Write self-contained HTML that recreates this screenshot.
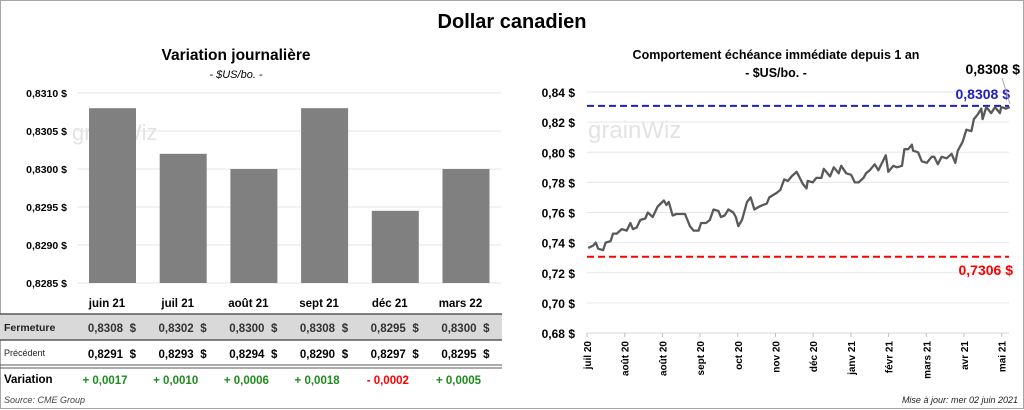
<!DOCTYPE html>
<html><head><meta charset="utf-8">
<style>
body{margin:0;background:#fff;font-family:"Liberation Sans",sans-serif;}
#wrap{position:relative;width:1024px;height:410px;overflow:hidden;}
svg text{font-family:"Liberation Sans",sans-serif;}
</style></head>
<body>
<div id="wrap">
<svg id="svg" width="1024" height="410" xmlns="http://www.w3.org/2000/svg">
<rect x="0.5" y="0.5" width="1023" height="408" fill="#fff" stroke="#a6a6a6"/>
<text x="512" y="28" text-anchor="middle" font-size="20" font-weight="bold">Dollar canadien</text>
<text x="236" y="60" text-anchor="middle" font-size="15.5" font-weight="bold">Variation  journalière</text>
<text x="236" y="78" text-anchor="middle" font-size="11" font-style="italic">- $US/bo. -</text>
<text x="776" y="59" text-anchor="middle" font-size="12.5" font-weight="bold">Comportement échéance immédiate depuis 1 an</text>
<text x="776" y="77" text-anchor="middle" font-size="12.5" font-weight="bold">- $US/bo. -</text>
<text x="72" y="140" font-size="22" fill="#e3e3e3">grainWiz</text>
<text x="588" y="138" font-size="24" fill="#e3e3e3">grainWiz</text>
<g id="left"></g>
<g id="right"></g>
<g id="table"></g>
<text x="4" y="403" font-size="9" font-style="italic" fill="#444">Source: CME Group</text>
<text x="1018" y="403" text-anchor="end" font-size="9" font-style="italic" fill="#222">Mise à jour: mer 02 juin 2021</text>
</svg>
</div>
<script>
const NS="http://www.w3.org/2000/svg";
const barCats=["juin 21","juil 21","août 21","sept 21","déc 21","mars 22"];
const barVals=[0.8308,0.8302,0.8300,0.8308,0.82945,0.8300];
const barTicks=[0.8285,0.8290,0.8295,0.8300,0.8305,0.8310];
const closeVals=["0,8308","0,8302","0,8300","0,8308","0,8295","0,8300"];
const prevVals=["0,8291","0,8293","0,8294","0,8290","0,8297","0,8295"];
const varVals=["+ 0,0017","+ 0,0010","+ 0,0006","+ 0,0018","- 0,0002","+ 0,0005"];
const lineDays=[1,5,7,9,13,15,19,21,24,28,32,35,37,40,43,47,49,53,57,62,64,66,69,72,79,83,86,90,92,96,99,102,106,108,111,114,118,120,122,125,129,132,135,139,145,147,153,156,159,162,165,169,171,174,177,178,182,185,189,191,196,199,203,205,209,213,216,219,223,225,228,232,235,238,241,243,247,250,254,256,259,262,263,267,270,274,278,280,283,286,290,294,297,299,303,306,310,312,315,318,319,322,326,329,333,334,338,341];
const lineVals=[0.7365,0.738,0.740,0.736,0.735,0.740,0.741,0.746,0.746,0.749,0.748,0.753,0.749,0.750,0.755,0.756,0.760,0.757,0.764,0.768,0.765,0.767,0.758,0.759,0.759,0.751,0.748,0.748,0.753,0.753,0.755,0.762,0.761,0.757,0.758,0.762,0.760,0.757,0.751,0.755,0.767,0.770,0.762,0.764,0.766,0.770,0.773,0.775,0.782,0.781,0.784,0.787,0.784,0.779,0.776,0.781,0.780,0.783,0.783,0.789,0.784,0.790,0.786,0.791,0.786,0.785,0.780,0.780,0.783,0.786,0.788,0.792,0.788,0.793,0.798,0.787,0.791,0.790,0.791,0.802,0.802,0.805,0.801,0.800,0.794,0.793,0.797,0.797,0.792,0.797,0.796,0.799,0.793,0.801,0.807,0.815,0.814,0.822,0.825,0.829,0.822,0.830,0.826,0.830,0.826,0.830,0.829,0.830];
const lineTicks=[0.68,0.70,0.72,0.74,0.76,0.78,0.80,0.82,0.84];
const monthLabels=["juil 20","août 20","août 20","sept 20","oct 20","nov 20","déc 20","janv 21","févr 21","mars 21","avr 21","mai 21"];
const highVal=0.8308, lowVal=0.7306, lastVal=0.8308;

function el(tag,attrs,parent,txt){const e=document.createElementNS(NS,tag);for(const k in attrs)e.setAttribute(k,attrs[k]);if(txt!==undefined)e.textContent=txt;parent.appendChild(e);return e;}

const L=document.getElementById('left');
const ly=v=>283-(v-0.8285)/0.0025*190;
const bandX=i=>77+i*70.7;
barTicks.forEach(t=>{
  const g=el('line',{x1:77,x2:501,y1:ly(t),y2:ly(t),stroke:'#e6e6e6'},L);
  
  
  const tx=el('text',{x:67,y:ly(t)+4,'text-anchor':'end','font-size':10.5,'font-weight':'bold'},L,t.toFixed(4).replace('.',',')+' $');
  
  
});
barVals.forEach((v,i)=>{
  const r=el('rect',{x:bandX(i)+12,y:ly(v),width:47,height:283-ly(v),fill:'#808080'},L);
  
  
});

const T=document.getElementById('table');
const r1=el('rect',{x:0,y:314,width:502,height:26,fill:'#d9d9d9'},T);


[[314,'#595959',1.5],[340,'#595959',1.5],[365,'#595959',1],[368,'#595959',1]].forEach(a=>{
  const ln=el('line',{x1:0,x2:502,y1:a[0],y2:a[0],stroke:a[1],'stroke-width':a[2]},T);
  
  
});
[['Fermeture',331,10.5,'bold','#222'],['Précédent',356,9,'normal','#222'],['Variation',383,11.5,'bold','#000']].forEach(a=>{
  const t=el('text',{x:4,y:a[1],'font-size':a[2],'font-weight':a[3],fill:a[4]},T,a[0]);
  
  
});
barCats.forEach((c,i)=>{
  const cx=bandX(i)+30;
  const h=el('text',{x:cx,y:307,'text-anchor':'middle','font-size':11.5,'font-weight':'bold'},T,c);
  
  
  const right=bandX(i)+59;
  const a=el('text',{x:right-13,y:332,'text-anchor':'end','font-size':11.5,'font-weight':'bold',fill:'#333'},T,closeVals[i]);
  
  
  const a2=el('text',{x:right,y:332,'text-anchor':'end','font-size':11.5,'font-weight':'bold',fill:'#333'},T,'$');
  
  
  const b=el('text',{x:right-13,y:358,'text-anchor':'end','font-size':11.5,'font-weight':'bold'},T,prevVals[i]);
  
  
  const b2=el('text',{x:right,y:358,'text-anchor':'end','font-size':11.5,'font-weight':'bold'},T,'$');
  
  
  const v=el('text',{x:cx-2,y:384,'text-anchor':'middle','font-size':11.5,'font-weight':'bold',fill:varVals[i][0]=='-'?'#ff0000':'#1e8c1e'},T,varVals[i]);
  
  
});

const R=document.getElementById('right');
const ry=v=>333-(v-0.68)/0.16*241;
const rx=d=>587+d*1.24;
lineTicks.forEach(t=>{
  const g=el('line',{x1:587,x2:1009,y1:ry(t),y2:ry(t),stroke:'#e6e6e6'},R);
  
  
  const tx=el('text',{x:575,y:ry(t)+5,'text-anchor':'end','font-size':12,'font-weight':'bold'},R,t.toFixed(2).replace('.',',')+' $');
  
  
});
const ax=el('line',{x1:587,x2:1009,y1:333,y2:333,stroke:'#d9d9d9'},R);


monthLabels.forEach((m,i)=>{
  const x=587+i*37.7;
  const tk=el('line',{x1:x,x2:x,y1:333,y2:337,stroke:'#bfbfbf'},R);
  
  
  const t=el('text',{x:x+4,y:341,'text-anchor':'end','font-size':10,'font-weight':'bold',transform:`rotate(-90 ${x+4} 341)`},R,m);
  
  
});
const hl=el('line',{x1:587,x2:1009,y1:ry(highVal),y2:ry(highVal),stroke:'#2020c0','stroke-width':2,'stroke-dasharray':'7,4'},R);


const lw=el('line',{x1:587,x2:1009,y1:ry(lowVal),y2:ry(lowVal),stroke:'#ff0000','stroke-width':2,'stroke-dasharray':'7,4'},R);


const pts=lineDays.map((d,i)=>rx(d).toFixed(1)+','+ry(lineVals[i]).toFixed(1)).join(' ');
const pl=el('polyline',{points:pts,fill:'none',stroke:'#595959','stroke-width':2.3,'stroke-linejoin':'round'},R);


const ht=el('text',{x:1010,y:ry(highVal)-7,'text-anchor':'end','font-size':14,'font-weight':'bold',fill:'#2020c0'},R,highVal.toFixed(4).replace('.',',')+' $');


const lt=el('text',{x:1013,y:ry(lowVal)+18,'text-anchor':'end','font-size':14,'font-weight':'bold',fill:'#ff0000'},R,lowVal.toFixed(4).replace('.',',')+' $');


const lst=el('text',{x:1020,y:74,'text-anchor':'end','font-size':14,'font-weight':'bold'},R,lastVal.toFixed(4).replace('.',',')+' $');


const ll=el('line',{x1:1002,y1:78,x2:1010,y2:ry(lastVal)-2,stroke:'#a6a6a6'},R);


</script>
</body></html>
